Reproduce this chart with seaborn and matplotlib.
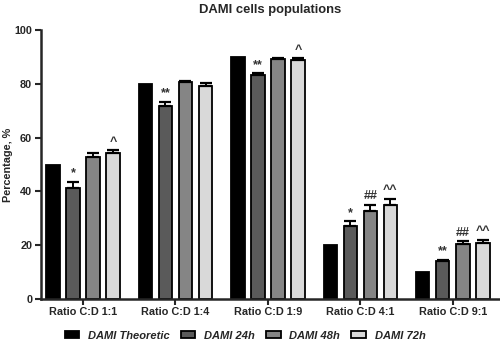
import matplotlib
matplotlib.use("Agg")
import matplotlib.pyplot as plt
import seaborn as sns
import pandas as pd
import numpy as np

categories = ["Ratio C:D 1:1", "Ratio C:D 1:4", "Ratio C:D 1:9", "Ratio C:D 4:1", "Ratio C:D 9:1"]
groups = ["DAMI Theoretic", "DAMI 24h", "DAMI 48h", "DAMI 72h"]
theoretic = [50, 80, 90, 20, 10]
h24 = [41.4, 71.8, 83.3, 27.0, 14.0]
h48 = [52.8, 80.6, 89.2, 32.7, 20.3]
h72 = [54.1, 79.3, 88.9, 35.1, 20.9]
err_theoretic = [0, 0, 0, 0, 0]
err24 = [2.0, 1.6, 0.6, 1.8, 0.6]
err48 = [1.5, 0.4, 0.6, 2.4, 1.1]
err72 = [1.2, 1.0, 0.6, 2.2, 1.2]
marks_theoretic = ["", "", "", "", ""]
marks24 = ["*", "**", "**", "*", "**"]
marks48 = ["", "", "", "##", "##"]
marks72 = ["^", "", "^", "^^", "^^"]
colors = ["#000000", "#5a5a5a", "#858585", "#d9d9d9"]

values = [theoretic, h24, h48, h72]
errs = [err_theoretic, err24, err48, err72]
marks = [marks_theoretic, marks24, marks48, marks72]

rows = []
for g, vals in zip(groups, values):
    for c, v in zip(categories, vals):
        rows.append({"ratio": c, "group": g, "value": v})
df = pd.DataFrame(rows)

sns.set_style("ticks")
plt.rcParams["font.family"] = ["Liberation Sans", "DejaVu Sans"]
plt.rcParams["font.weight"] = "bold"

fig = plt.figure(figsize=(5.0, 3.42), dpi=100)
ax = fig.add_axes([0.081, 0.126, 0.919, 0.786])

sns.barplot(data=df, x="ratio", y="value", hue="group", palette=colors,
            edgecolor="black", linewidth=1.3, width=0.866, gap=0.335,
            errorbar=None, ax=ax, legend=True)

for cont, e, m in zip(ax.containers, errs, marks):
    xs = [p.get_x() + p.get_width() / 2 for p in cont.patches]
    hs = [p.get_height() for p in cont.patches]
    for x, h, ee, mm in zip(xs, hs, e, m):
        if ee > 0:
            ax.errorbar([x], [h], yerr=[[0], [ee]], fmt="none", ecolor="black",
                        elinewidth=1.4, capsize=4, capthick=1.6, zorder=1)
        if mm:
            ax.text(x, h + ee + 1.0, mm, ha="center", va="bottom",
                    fontsize=9, color="#333333", fontweight="bold")

ax.set_ylim(0, 100)
ax.set_xlim(-0.46, 4.51)
ax.set_yticks([0, 20, 40, 60, 80, 100])
ax.set_xlabel("")
ax.set_ylabel("Percentage, %", fontsize=7.8, fontweight="bold")
ax.yaxis.set_label_coords(-0.06, 0.5)
ax.set_title("DAMI cells populations", fontsize=9.4, fontweight="bold", pad=12)
ax.tick_params(axis="both", labelsize=7.8, width=1.5, length=4, pad=2)
for lab in ax.get_xticklabels() + ax.get_yticklabels():
    lab.set_fontweight("bold")
sns.despine(ax=ax)
for s in ["left", "bottom"]:
    ax.spines[s].set_linewidth(1.8)

handles, labels = ax.get_legend_handles_labels()
ax.get_legend().remove()
fig.legend(handles, labels, loc="lower center", bbox_to_anchor=(0.49, -0.025), ncol=4,
           frameon=False, prop={"size": 8, "weight": "bold", "style": "italic"},
           handlelength=1.3, handleheight=0.6, columnspacing=1.0, handletextpad=0.8)

fig.savefig("out.png", dpi=100)
